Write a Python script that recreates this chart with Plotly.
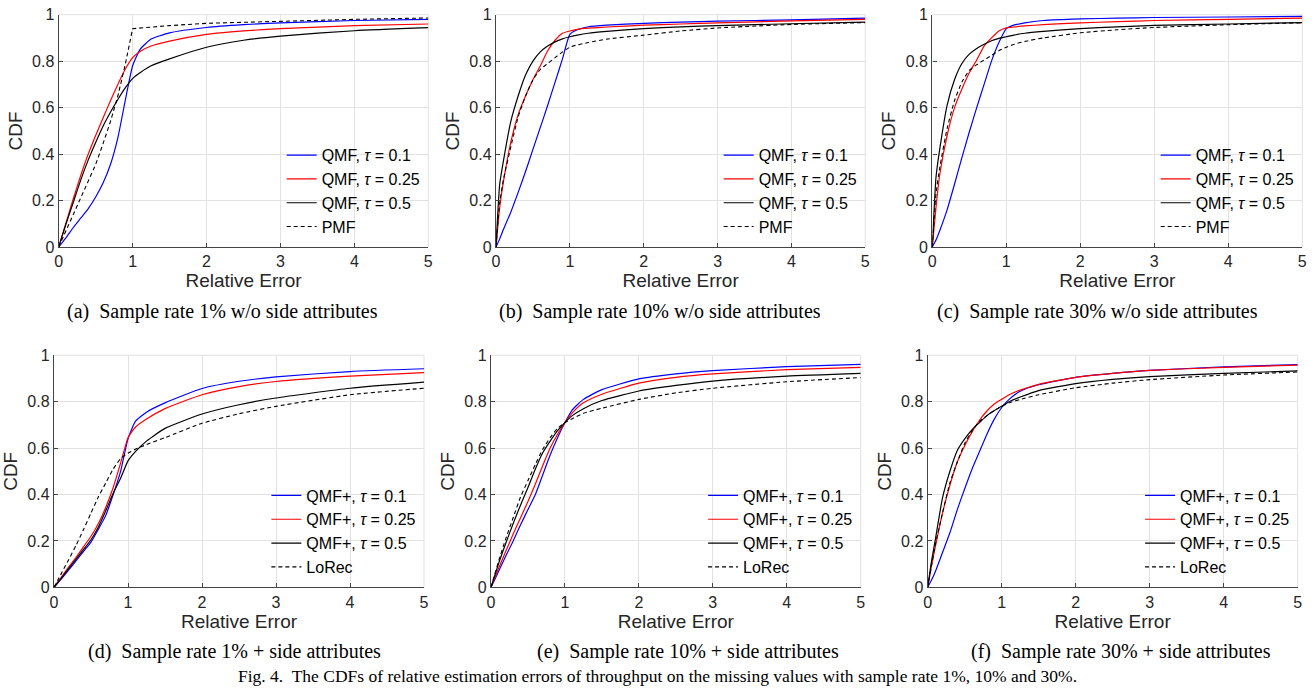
import plotly.graph_objects as go

# relative error grid (x) shared by all curves
err = [0, 0.05, 0.1, 0.2, 0.3, 0.4, 0.5, 0.6, 0.7, 0.8, 0.9, 1.0, 1.1, 1.25, 1.5, 2, 2.5, 3, 4, 5]

# (a) sample rate 1%, w/o side attributes
a_t01 = [0, .02, .04, .085, .125, .165, .215, .275, .355, .47, .63, .78, .85, .895, .922, .945, .957, .965, .975, .98]
a_t025 = [0, .053, .105, .21, .31, .4, .48, .555, .63, .7, .765, .815, .842, .865, .886, .915, .93, .94, .953, .96]
a_t05 = [0, .05, .1, .195, .29, .375, .45, .52, .58, .635, .685, .725, .75, .78, .81, .86, .89, .908, .931, .944]
a_base = [0, .035, .07, .14, .21, .285, .355, .445, .54, .65, .785, .94, .943, .946, .953, .963, .968, .973, .98, .986]

# (b) sample rate 10%, w/o side attributes
b_t01 = [0, .035, .075, .15, .235, .325, .42, .515, .61, .71, .81, .915, .935, .948, .955, .963, .968, .972, .978, .985]
b_t025 = [0, .17, .28, .45, .57, .65, .72, .78, .845, .89, .92, .93, .937, .942, .947, .955, .96, .965, .973, .98]
b_t05 = [0, .27, .37, .54, .65, .74, .80, .84, .865, .883, .896, .905, .912, .92, .928, .94, .948, .953, .961, .968]
b_base = [0, .19, .29, .43, .56, .65, .72, .765, .79, .815, .84, .86, .87, .88, .895, .912, .93, .943, .958, .966]

# (c) sample rate 30%, w/o side attributes
c_t01 = [0, .03, .07, .16, .27, .385, .495, .6, .7, .8, .88, .94, .955, .965, .975, .982, .985, .988, .99, .993]
c_t025 = [0, .17, .31, .48, .6, .68, .75, .805, .865, .9, .93, .943, .947, .952, .957, .965, .97, .975, .98, .985]
c_t05 = [0, .3, .42, .61, .72, .79, .83, .855, .873, .888, .898, .905, .912, .92, .928, .94, .948, .954, .96, .966]
c_base = [0, .23, .34, .51, .63, .71, .76, .785, .805, .825, .845, .86, .872, .885, .9, .922, .935, .945, .957, .965]

# (d) sample rate 1%, + side attributes
d_t01 = [0, .018, .036, .075, .115, .155, .195, .25, .31, .4, .5, .64, .715, .755, .795, .857, .888, .907, .93, .942]
d_t025 = [0, .022, .044, .088, .13, .175, .22, .275, .345, .43, .535, .645, .69, .725, .77, .83, .865, .887, .91, .925]
d_t05 = [0, .02, .04, .082, .122, .163, .205, .26, .33, .405, .47, .545, .585, .63, .685, .747, .787, .816, .858, .884]
d_base = [0, .03, .06, .12, .182, .25, .32, .39, .45, .51, .555, .578, .595, .615, .645, .707, .748, .78, .83, .858]

# (e) sample rate 10%, + side attributes
e_t01 = [0, .033, .067, .135, .2, .27, .335, .4, .485, .57, .645, .71, .765, .81, .852, .898, .92, .934, .951, .961]
e_t025 = [0, .04, .08, .155, .23, .3, .37, .445, .525, .6, .66, .71, .752, .795, .832, .88, .905, .92, .938, .948]
e_t05 = [0, .05, .1, .19, .275, .355, .43, .51, .58, .63, .675, .71, .74, .77, .805, .846, .87, .889, .91, .922]
e_base = [0, .055, .11, .21, .3, .39, .46, .53, .595, .645, .685, .71, .727, .75, .772, .81, .838, .858, .886, .904]

# (f) sample rate 30%, + side attributes
f_t01 = [0, .03, .065, .15, .235, .335, .425, .51, .585, .66, .725, .775, .81, .845, .873, .905, .922, .935, .95, .96]
f_t025 = [0, .09, .17, .32, .44, .54, .61, .67, .72, .76, .79, .81, .83, .85, .875, .905, .922, .935, .948, .958]
f_t05 = [0, .11, .2, .385, .5, .59, .64, .68, .71, .74, .762, .78, .8, .82, .848, .878, .896, .908, .922, .933]
f_base = [0, .09, .18, .32, .45, .54, .62, .675, .715, .74, .762, .78, .795, .81, .83, .86, .88, .895, .915, .928]

taus = ["0.1", "0.25", "0.5"]
captions = [
    "(a)  Sample rate 1% w/o side attributes",
    "(b)  Sample rate 10% w/o side attributes",
    "(c)  Sample rate 30% w/o side attributes",
    "(d)  Sample rate 1% + side attributes",
    "(e)  Sample rate 10% + side attributes",
    "(f)  Sample rate 30% + side attributes",
]
fig_caption = "Fig. 4.  The CDFs of relative estimation errors of throughput on the missing values with sample rate 1%, 10% and 30%."

panels = [
    ("QMF", "PMF", [a_t01, a_t025, a_t05, a_base]),
    ("QMF", "PMF", [b_t01, b_t025, b_t05, b_base]),
    ("QMF", "PMF", [c_t01, c_t025, c_t05, c_base]),
    ("QMF+", "LoRec", [d_t01, d_t025, d_t05, d_base]),
    ("QMF+", "LoRec", [e_t01, e_t025, e_t05, e_base]),
    ("QMF+", "LoRec", [f_t01, f_t025, f_t05, f_base]),
]

W, H = 1315, 691
# plot areas in pixels: (left, right, top, bottom)
boxes = [
    (58.7, 428.3, 14.7, 247), (496, 865.3, 14.7, 247), (932.3, 1302.3, 14.7, 247),
    (54, 424, 355.3, 587.3), (491, 860.7, 355.3, 587.3), (927.7, 1297.7, 355.3, 587.3),
]
cap_pos = [(222, 311), (660, 311), (1097, 311), (234, 651), (688, 651), (1121, 651)]

colors = ["#0000ff", "#ff0000", "#000000"]
axis_font = "Liberation Sans, Arial, sans-serif"
serif = "Liberation Serif, Times New Roman, serif"
txt_col = "#262626"

fig = go.Figure()
layout = {}
shapes = []

for i, (method, base, curves) in enumerate(panels):
    n = "" if i == 0 else str(i + 1)
    leg = "legend" + n
    for k in range(3):
        fig.add_trace(go.Scatter(
            x=err, y=curves[k], mode="lines",
            name=f"{method}, <i>τ</i> = {taus[k]}",
            line=dict(color=colors[k], width=1.2, shape="spline", smoothing=0.5),
            xaxis="x" + n, yaxis="y" + n, legend=leg,
        ))
    fig.add_trace(go.Scatter(
        x=err, y=curves[3], mode="lines", name=base,
        line=dict(color="#000000", width=1.1, dash="4px,3px",
                  shape="linear" if i == 0 else "spline", smoothing=0.5),
        xaxis="x" + n, yaxis="y" + n, legend=leg,
    ))

    l, r, t, b = boxes[i]
    common = dict(
        showgrid=True, gridcolor="#e2e2e2", gridwidth=1,
        showline=True, linecolor="#444444", linewidth=1.4,
        ticks="inside", ticklen=4, tickcolor="#444444",
        zeroline=False, automargin=False, ticklabeloverflow="allow",
        tickfont=dict(family=axis_font, size=16, color=txt_col),
    )
    layout["xaxis" + n] = dict(
        common, domain=[l / W, r / W], anchor="y" + n, range=[0, 5], dtick=1,
        title=dict(text="Relative Error", standoff=0,
                   font=dict(family=axis_font, size=19, color=txt_col)),
    )
    layout["yaxis" + n] = dict(
        common, domain=[1 - b / H, 1 - t / H], anchor="x" + n, range=[0, 1], dtick=0.2,
        title=dict(text="CDF", standoff=4,
                   font=dict(family=axis_font, size=19, color=txt_col)),
    )
    layout[leg] = dict(
        x=r / W - 0.002, xanchor="right", y=1 - b / H + 0.004, yanchor="bottom",
        bgcolor="rgba(0,0,0,0)", borderwidth=0, itemwidth=30,
        font=dict(family=axis_font, size=16, color="#000000"),
        tracegroupgap=0,
    )
    # light frame on the top and right edges, like the grid
    for x0, y0, x1, y1 in [(0, 1, 1, 1), (1, 0, 1, 1)]:
        shapes.append(dict(
            type="line", xref=f"x{n} domain", yref=f"y{n} domain",
            x0=x0, y0=y0, x1=x1, y1=y1, layer="below",
            line=dict(color="#e2e2e2", width=1),
        ))

annotations = []
for (cx, cy), txt in zip(cap_pos, captions):
    annotations.append(dict(
        x=cx / W, y=1 - cy / H, xref="paper", yref="paper", text=txt,
        showarrow=False, xanchor="center", yanchor="middle",
        font=dict(family=serif, size=20, color="#000000"),
    ))
annotations.append(dict(
    x=657 / W, y=1 - 676 / H, xref="paper", yref="paper", text=fig_caption,
    showarrow=False, xanchor="center", yanchor="middle",
    font=dict(family=serif, size=17.5, color="#000000"),
))

fig.update_layout(
    width=W, height=H, autosize=False,
    margin=dict(l=0, r=0, t=0, b=0),
    paper_bgcolor="white", plot_bgcolor="white",
    showlegend=True,
    annotations=annotations,
    shapes=shapes,
    **layout,
)

fig.write_html("out.html", config={"displayModeBar": False},
               post_script="document.body.style.margin='0';")
